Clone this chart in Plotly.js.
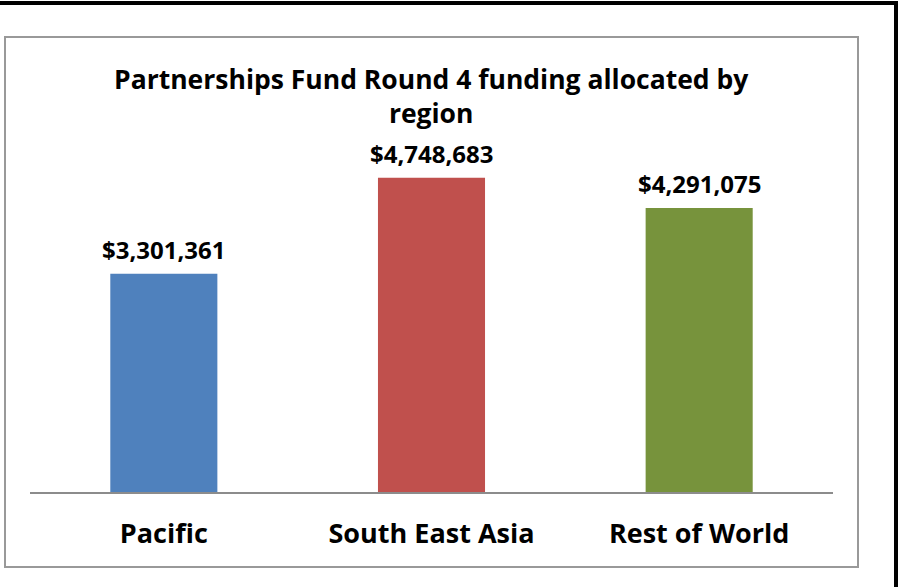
<!DOCTYPE html>
<html>
<head>
<meta charset="utf-8">
<script src="https://cdn.plot.ly/plotly-3.0.1.min.js"></script>
<style>
html,body{margin:0;padding:0;background:#fff;}
#chart{width:899px;height:587px;}
</style>
</head>
<body>
<div id="chart"></div>
<script>
const categories = ["Pacific", "South East Asia", "Rest of World"];
const values = [3301361, 4748683, 4291075];
const barColors = ["#4F81BD", "#C0504D", "#77933C"];
const titleText = "Partnerships Fund Round 4 funding allocated by<br>region";

const W = 899, H = 587;
const px = x => x / W;
const py = y => 1 - y / H;
const FONT = "Open Sans, Noto Sans, sans-serif";

const fmt = v => "$" + v.toLocaleString("en-US");

const trace = {
  type: "bar",
  x: categories,
  y: values,
  marker: {color: barColors, line: {width: 0}},
  hoverinfo: "skip"
};

const labelAnns = categories.map((c, i) => ({
  x: c, y: values[i], xref: "x", yref: "y",
  text: "<b>" + fmt(values[i]) + "</b>",
  showarrow: false, yanchor: "bottom", yshift: 6,
  font: {family: FONT, size: 24, color: "#000"}
}));

const layout = {
  width: W, height: H,
  margin: {l: 0, r: 0, t: 0, b: 0},
  paper_bgcolor: "#fff", plot_bgcolor: "rgba(0,0,0,0)",
  showlegend: false,
  bargap: 0.6,
  xaxis: {
    domain: [px(30), px(833)],
    showline: false, showgrid: false, zeroline: false, ticks: "",
    tickfont: {family: FONT, size: 27, color: "#000", weight: "bold"},
    ticklabelstandoff: 22,
    fixedrange: true
  },
  yaxis: {
    domain: [py(493), py(161)],
    range: [0, 5000000],
    visible: false, showgrid: false, zeroline: false,
    fixedrange: true
  },
  annotations: [
    {
      xref: "paper", yref: "paper", x: px(431), y: py(96),
      text: "<b>" + titleText + "</b>", showarrow: false,
      xanchor: "center", yanchor: "middle",
      font: {family: FONT, size: 26.5, color: "#000"}
    }
  ].concat(labelAnns),
  shapes: [
    {type: "rect", xref: "paper", yref: "paper", x0: px(5), x1: px(858), y0: py(567), y1: py(37),
     line: {color: "#999999", width: 2}, fillcolor: "rgba(0,0,0,0)"},
    {type: "line", xref: "paper", yref: "paper", x0: px(30), x1: px(833), y0: py(493), y1: py(493),
     line: {color: "#8C8C8C", width: 2}},
    {type: "line", xref: "paper", yref: "paper", x0: 0, x1: px(898), y0: py(3), y1: py(3),
     line: {color: "#000000", width: 4}},
    {type: "line", xref: "paper", yref: "paper", x0: px(896), x1: px(896), y0: 0, y1: py(1),
     line: {color: "#000000", width: 4}}
  ]
};

Plotly.newPlot("chart", [trace], layout, {displayModeBar: false, staticPlot: true});
</script>
</body>
</html>
